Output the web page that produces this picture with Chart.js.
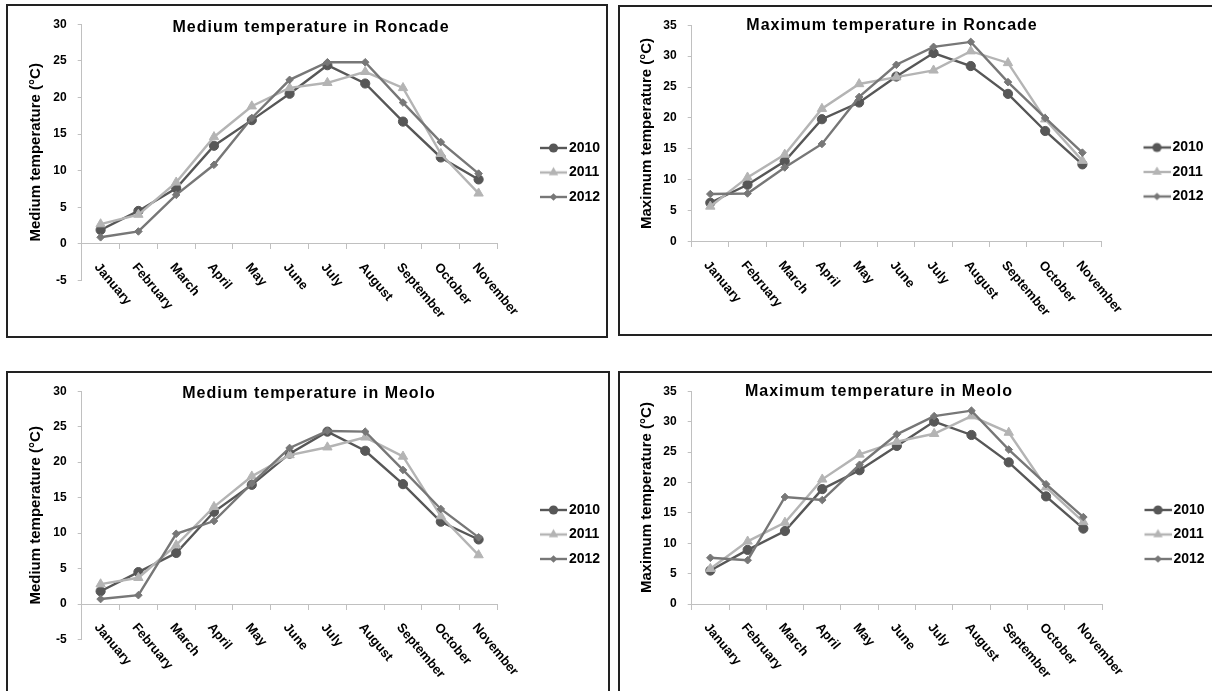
<!DOCTYPE html>
<html>
<head>
<meta charset="utf-8">
<title>Temperatures in Roncade and Meolo</title>
<script src="https://cdn.jsdelivr.net/npm/chart.js@4.4.1/dist/chart.umd.min.js"></script>
<style>
  html, body { margin: 0; padding: 0; background: #fff; }
  body { width: 1212px; height: 691px; position: relative; overflow: hidden; }
  .frame { position: absolute; border: 2px solid #222; box-sizing: border-box; }
  canvas { position: absolute; }
</style>
</head>
<body>
<div class="frame" style="left:6px;top:4px;width:602px;height:334px"></div>
<div class="frame" style="left:618px;top:5px;width:600px;height:331px"></div>
<div class="frame" style="left:6px;top:371px;width:604px;height:330px"></div>
<div class="frame" style="left:618px;top:371px;width:600px;height:330px"></div>

<canvas id="c1" width="610" height="330" style="left:8px;top:6px"></canvas>
<canvas id="c2" width="610" height="327" style="left:620px;top:7px"></canvas>
<canvas id="c3" width="610" height="318" style="left:8px;top:373px"></canvas>
<canvas id="c4" width="610" height="318" style="left:620px;top:373px"></canvas>

<script>
// --- Data ---
const months = ["January", "February", "March", "April", "May", "June",
  "July", "August", "September", "October", "November"];
const years = ["2010", "2011", "2012"];

const roncadeMed2010 = [1.9, 4.5, 7.6, 13.4, 16.9, 20.5, 24.4, 21.9, 16.7, 11.8, 8.8];
const roncadeMed2011 = [2.7, 4.0, 8.4, 14.6, 18.8, 21.3, 22.0, 23.5, 21.3, 12.3, 6.9];
const roncadeMed2012 = [0.9, 1.7, 6.7, 10.8, 17.2, 22.4, 24.8, 24.8, 19.3, 13.9, 9.6];

const roncadeMax2010 = [6.3, 9.2, 13.0, 19.8, 22.5, 26.7, 30.5, 28.4, 23.9, 17.9, 12.5];
const roncadeMax2011 = [5.7, 10.4, 14.1, 21.5, 25.5, 26.6, 27.7, 30.8, 28.9, 19.8, 13.1];
const roncadeMax2012 = [7.7, 7.8, 12.0, 15.8, 23.4, 28.6, 31.5, 32.3, 25.8, 20.0, 14.4];

const meoloMed2010 = [1.8, 4.5, 7.2, 13.0, 16.8, 21.2, 24.3, 21.6, 16.9, 11.6, 9.1];
const meoloMed2011 = [2.8, 3.7, 8.3, 13.7, 18.0, 21.0, 22.1, 23.5, 20.8, 12.4, 6.9];
const meoloMed2012 = [0.7, 1.25, 9.9, 11.7, 17.0, 22.0, 24.4, 24.3, 18.9, 13.4, 9.4];

const meoloMax2010 = [5.5, 8.9, 12.0, 18.9, 22.0, 26.0, 30.0, 27.8, 23.3, 17.7, 12.4];
const meoloMax2011 = [5.8, 10.3, 13.4, 20.5, 24.6, 26.7, 28.0, 30.9, 28.2, 19.2, 13.5];
const meoloMax2012 = [7.6, 7.2, 17.6, 17.1, 22.9, 27.9, 30.9, 31.8, 25.4, 19.7, 14.3];

// --- Styling ---
const FAMILY = '"Liberation Sans", Arial, Helvetica, sans-serif';
const AXIS_GRAY = "#c0c0c0";
const seriesStyles = [
  { color: "#575757", point: "circle", radius: 4.6 },
  { color: "#b4b4b4", point: "triangle", radius: 5.4 },
  { color: "#777777", point: "rectRot", radius: 3.8 },
];
const LEGEND_FONT = 14;
const LEGEND_PAD = 10.5;
const LEGEND_BOX = 54;

// panel layout, page coordinates
const panels = [
  {
    id: "c1", left: 8, top: 6,
    title: "Medium temperature in Roncade", titleX: 311, titleY: 32,
    yTitle: "Medium temperature (°C)", yTitleX: 36, yMin: -5, yMax: 30,
    series: [roncadeMed2010, roncadeMed2011, roncadeMed2012],
    area: { left: 81.7, top: 20.3, right: 497.5, bottom: 280.5 }, legendMid: 172.5,
  },
  {
    id: "c2", left: 620, top: 7,
    title: "Maximum temperature in Roncade", titleX: 892, titleY: 30,
    yTitle: "Maximum temperature (°C)", yTitleX: 647, yMin: 0, yMax: 35,
    series: [roncadeMax2010, roncadeMax2011, roncadeMax2012],
    area: { left: 691.7, top: 20.1, right: 1101, bottom: 241.7 }, legendMid: 172,
  },
  {
    id: "c3", left: 8, top: 373,
    title: "Medium temperature in Meolo", titleX: 309, titleY: 398,
    yTitle: "Medium temperature (°C)", yTitleX: 36, yMin: -5, yMax: 30,
    series: [meoloMed2010, meoloMed2011, meoloMed2012],
    area: { left: 81.7, top: 386.1, right: 497.5, bottom: 639.5 }, legendMid: 534.5,
  },
  {
    id: "c4", left: 620, top: 373,
    title: "Maximum temperature in Meolo", titleX: 879, titleY: 396,
    yTitle: "Maximum temperature (°C)", yTitleX: 647, yMin: 0, yMax: 35,
    series: [meoloMax2010, meoloMax2011, meoloMax2012],
    area: { left: 691.7, top: 386.3, right: 1102, bottom: 604 }, legendMid: 534.5,
  },
];

// legend icon: short line with the series marker, drawn into the right part of the image
function makeLegendIcon(style) {
  const c = document.createElement("canvas");
  c.width = 64; c.height = 14;
  const g = c.getContext("2d");
  g.strokeStyle = style.color;
  g.fillStyle = style.color;
  g.lineWidth = 2.4;
  g.beginPath(); g.moveTo(37, 7); g.lineTo(64, 7); g.stroke();
  const cx = 50.5, cy = 7, r = style.radius;
  g.beginPath();
  if (style.point === "circle") {
    g.arc(cx, cy, r, 0, Math.PI * 2);
  } else if (style.point === "triangle") {
    g.moveTo(cx, cy - r);
    g.lineTo(cx + r * 0.866, cy + r * 0.5);
    g.lineTo(cx - r * 0.866, cy + r * 0.5);
    g.closePath();
  } else {
    g.moveTo(cx, cy - r); g.lineTo(cx + r, cy); g.lineTo(cx, cy + r); g.lineTo(cx - r, cy);
    g.closePath();
  }
  g.fill();
  return c;
}
const legendIcons = seriesStyles.map(makeLegendIcon);

// --- Plugins ---
const panelTitle = {
  id: "panelTitle",
  afterDraw(chart, args, opts) {
    const { ctx } = chart;
    ctx.save();
    ctx.font = `bold 16px ${FAMILY}`;
    if ("letterSpacing" in ctx) ctx.letterSpacing = "1px";
    ctx.fillStyle = "#000";
    ctx.textAlign = "center";
    ctx.textBaseline = "alphabetic";
    ctx.fillText(opts.text, opts.x, opts.y);
    ctx.restore();
  },
};

// month labels slanted downwards from the zero line
const slantedMonths = {
  id: "slantedMonths",
  afterDraw(chart) {
    const { ctx } = chart;
    const xs = chart.scales.x;
    const y0 = chart.scales.y.getPixelForValue(0);
    ctx.save();
    ctx.font = `bold 13px ${FAMILY}`;
    ctx.fillStyle = "#000";
    ctx.textAlign = "left";
    ctx.textBaseline = "top";
    chart.data.labels.forEach((label, i) => {
      ctx.save();
      ctx.translate(xs.getPixelForValue(i) + 1, y0 + 17);
      ctx.rotate((50 * Math.PI) / 180);
      ctx.fillText(label, 0, 0);
      ctx.restore();
    });
    ctx.restore();
  },
};

// legend items start below an empty legend title, so the title padding sets their height
function legendTitlePad(p, padTop) {
  const firstTop = p.legendMid - p.top - (LEGEND_FONT + LEGEND_PAD) - LEGEND_FONT / 2;
  return firstTop - padTop - LEGEND_PAD - 1;
}

function makeChart(p) {
  const canvas = document.getElementById(p.id);
  const H = canvas.height;
  const want = {
    left: p.area.left - p.left, top: p.area.top - p.top,
    right: p.area.right - p.left, bottom: p.area.bottom - p.top,
  };

  const chart = new Chart(canvas, {
    type: "line",
    data: {
      labels: months,
      datasets: years.map((yr, i) => ({
        label: yr,
        data: p.series[i],
        borderColor: seriesStyles[i].color,
        backgroundColor: seriesStyles[i].color,
        pointBackgroundColor: seriesStyles[i].color,
        pointBorderColor: seriesStyles[i].color,
        borderWidth: 2.4,
        pointStyle: seriesStyles[i].point,
        pointRadius: seriesStyles[i].radius,
        pointBorderWidth: 1,
        tension: 0,
        fill: false,
        order: 2 - i,
      })),
    },
    options: {
      responsive: false,
      animation: false,
      devicePixelRatio: 1,
      events: [],
      layout: { padding: { left: 0, top: want.top, right: 10, bottom: H - want.bottom } },
      scales: {
        x: {
          position: { y: 0 },
          offset: true,
          grid: { offset: true, drawOnChartArea: false, drawTicks: true, tickLength: 5, color: AXIS_GRAY },
          border: { color: AXIS_GRAY, width: 1 },
          ticks: { display: false },
        },
        y: {
          position: "left",
          min: p.yMin,
          max: p.yMax,
          ticks: { stepSize: 5, padding: 11, color: "#000", font: { family: FAMILY, size: 12, weight: "bold" } },
          grid: { drawOnChartArea: false, drawTicks: true, tickLength: 4, color: AXIS_GRAY },
          border: { color: AXIS_GRAY, width: 1 },
          title: {
            display: true,
            text: p.yTitle,
            color: "#000",
            font: { family: FAMILY, size: 15, weight: "bold", lineHeight: 1.2 },
            padding: { top: p.yTitleX - p.left - 9, bottom: 0 },
          },
          afterFit: (s) => { s.width = want.left; },
        },
      },
      plugins: {
        legend: {
          position: "right",
          align: "start",
          title: {
            display: true,
            text: "",
            font: { family: FAMILY, size: 1, lineHeight: 1 },
            padding: { top: legendTitlePad(p, want.top), bottom: 0 },
          },
          labels: {
            usePointStyle: true,
            pointStyleWidth: LEGEND_BOX,
            padding: LEGEND_PAD,
            color: "#000",
            font: { family: FAMILY, size: LEGEND_FONT, weight: "bold" },
            generateLabels: (c) =>
              Chart.defaults.plugins.legend.labels.generateLabels(c)
                .sort((a, b) => a.datasetIndex - b.datasetIndex)
                .map((item) => ({ ...item, pointStyle: legendIcons[item.datasetIndex] })),
          },
        },
        tooltip: { enabled: false },
        panelTitle: { text: p.title, x: p.titleX - p.left, y: p.titleY - p.top },
      },
    },
    plugins: [panelTitle, slantedMonths],
  });

  // nudge the layout padding so the plot area lands where the reference has it
  const pad = chart.options.layout.padding;
  const a = chart.chartArea;
  const newPad = {
    left: pad.left + (want.left - a.left),
    top: pad.top + (want.top - a.top),
    right: pad.right + (a.right - want.right),
    bottom: pad.bottom + (a.bottom - want.bottom),
  };
  chart.options.layout.padding = newPad;
  chart.options.plugins.legend.title.padding = { top: legendTitlePad(p, newPad.top), bottom: 0 };
  chart.update("none");
}

panels.forEach(makeChart);
</script>
</body>
</html>
